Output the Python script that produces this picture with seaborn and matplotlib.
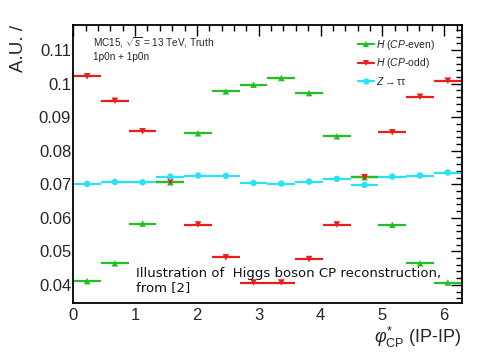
import numpy as np
import pandas as pd
import matplotlib
matplotlib.use("Agg")
import matplotlib.pyplot as plt
from matplotlib.lines import Line2D
from matplotlib.ticker import MultipleLocator
import seaborn as sns

# ---- data ----
n_bins = 14
x_max = 2 * np.pi
cp_even = [0.0411, 0.0464, 0.0583, 0.0706, 0.0852, 0.0977, 0.0997,
           0.1017, 0.0972, 0.0843, 0.0721, 0.0579, 0.0464, 0.0407]
cp_odd = [0.1022, 0.0949, 0.0858, 0.0708, 0.0580, 0.0482, 0.0407,
          0.0407, 0.0477, 0.0580, 0.0721, 0.0855, 0.0961, 0.1009]
z_tautau = [0.0701, 0.0707, 0.0706, 0.0723, 0.0726, 0.0725, 0.0704,
            0.0702, 0.0708, 0.0716, 0.0698, 0.0723, 0.0726, 0.0735]
series_names = ["H (CP-even)", "H (CP-odd)", "Z->tautau"]
legend_labels = [r"$\it{H}$ ($\it{CP}$-even)", r"$\it{H}$ ($\it{CP}$-odd)",
                 r"$\it{Z}$$\rightarrow$ττ"]
x_ticks = [0, 1, 2, 3, 4, 5, 6]
y_ticks = [0.04, 0.05, 0.06, 0.07, 0.08, 0.09, 0.1, 0.11]
y_tick_labels = ["0.04", "0.05", "0.06", "0.07", "0.08", "0.09", "0.1", "0.11"]

edges = np.linspace(0, x_max, n_bins + 1)
centers = 0.5 * (edges[:-1] + edges[1:])
half_w = 0.5 * (edges[1] - edges[0])

df = pd.concat([
    pd.DataFrame({"x": centers, "y": vals, "series": name})
    for name, vals in zip(series_names, [cp_even, cp_odd, z_tautau])
], ignore_index=True)

colors = {"H (CP-even)": "#22c022", "H (CP-odd)": "#ec1c1c", "Z->tautau": "#2ae2f6"}
markers = {"H (CP-even)": "^", "H (CP-odd)": "v", "Z->tautau": "o"}

sns.set_theme(style="white")
plt.rcParams["font.family"] = ["Liberation Sans", "DejaVu Sans"]
plt.rcParams["mathtext.fontset"] = "custom"
plt.rcParams["mathtext.rm"] = "Liberation Sans"
plt.rcParams["mathtext.it"] = "Liberation Sans:italic"
plt.rcParams["mathtext.bf"] = "Liberation Sans:bold"

fig = plt.figure(figsize=(4.85, 3.6), dpi=100)
ax = fig.add_axes([0.151, 0.1575, 0.801, 0.773])

# horizontal bin-width bars
order = ["Z->tautau", "H (CP-odd)", "H (CP-even)"]
for name in order:
    sub = df[df.series == name]
    ax.errorbar(sub.x, sub.y, xerr=half_w, fmt="none", ecolor=colors[name],
                elinewidth=1.6, capsize=0, zorder=2)

sns.scatterplot(data=df, x="x", y="y", hue="series", style="series",
                palette=colors, markers=markers, s=22, edgecolor="none",
                hue_order=order, style_order=order,
                ax=ax, legend=False, zorder=3)

ax.set_xlim(0, x_max)
ax.set_ylim(0.0345, 0.1175)
ax.set_xticks(x_ticks)
ax.set_yticks(y_ticks)
ax.set_yticklabels(y_tick_labels)
ax.xaxis.set_minor_locator(MultipleLocator(0.2))
ax.yaxis.set_minor_locator(MultipleLocator(0.002))
ax.tick_params(which="both", direction="in", top=True, right=True,
               color="black", width=1.0)
ax.tick_params(which="major", length=8, labelsize=12)
ax.tick_params(which="minor", length=4)
ax.tick_params(axis="y", pad=1.5)
ax.tick_params(axis="x", pad=3.5)
for sp in ax.spines.values():
    sp.set_color("black")
    sp.set_linewidth(1.3)
ax.grid(False)

ax.set_xlabel(r"$\varphi^{*}_{\mathrm{CP}}$ (IP-IP)", fontsize=13, loc="right")
ax.xaxis.set_label_coords(1.0, -0.078)
ax.set_ylabel("A.U. /", fontsize=13.5, loc="top")
ax.yaxis.set_label_coords(-0.118, 1.0)

ax.text(0.05, 0.935, r"MC15, $\sqrt{s}$ = 13 TeV, Truth", transform=ax.transAxes,
        fontsize=7.2, va="center", ha="left")
ax.text(0.05, 0.885, "1p0n + 1p0n", transform=ax.transAxes,
        fontsize=7.2, va="center", ha="left")

handles = [Line2D([0], [0], color=colors[n], marker=markers[n], markersize=4.5,
                  markeredgewidth=0, lw=1.6) for n in series_names]
leg = ax.legend(handles, legend_labels, loc="upper left",
                bbox_to_anchor=(0.733, 0.955), frameon=False, fontsize=7.5,
                handlelength=1.5, handletextpad=0.25, labelspacing=0.45,
                borderpad=0, borderaxespad=0)

ax.text(0.161, 0.083, "Illustration of  Higgs boson CP reconstruction,\nfrom [2]",
        transform=ax.transAxes, fontsize=9.5, family="DejaVu Sans",
        va="center", ha="left", linespacing=1.1, color="#111111", zorder=5)

fig.savefig("out.png", dpi=100, facecolor="white")
